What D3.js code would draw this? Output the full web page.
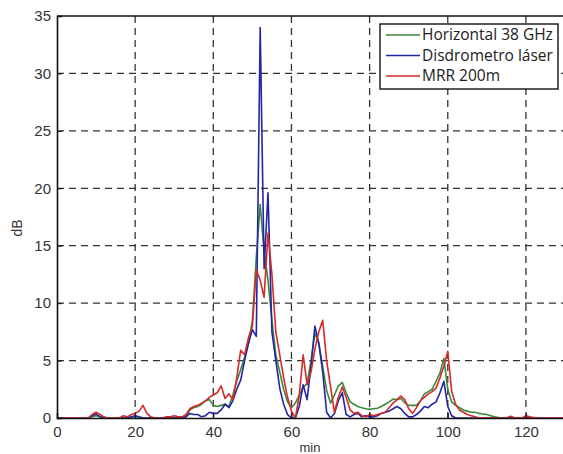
<!DOCTYPE html>
<html><head><meta charset="utf-8">
<script src="https://cdn.jsdelivr.net/npm/d3@7/dist/d3.min.js"></script>
<style>
html,body{margin:0;padding:0;background:#fff;}
svg{display:block;}
</style></head>
<body>
<svg id="chart" width="563" height="454"></svg>
<script>
// minutes 0..130
const minutes = d3.range(0, 131);
const seriesNames = ["Horizontal 38 GHz", "Disdrometro láser", "MRR 200m"];
const seriesColors = ["#3a8a3c", "#2424a6", "#d42a2a"];
const xTicks = [0, 20, 40, 60, 80, 100, 120];
const yTicks = [0, 5, 10, 15, 20, 25, 30, 35];

const horizontal = [
 0,0,0,0,0,0,0,0,0,0.1, 0.2,0.1,0,0,0,0,0,0,0,0,
 0,0,0,0,0,0,0,0,0,0, 0,0,0,0.1,0.7,0.9,1.0,1.2,1.5,1.6,
 1.1,1.0,1.1,1.2,1.0,2.0,3.2,4.2,5.3,6.5, 8.5,14.0,18.6,14.5,12.0,8.5,5.5,4.0,2.5,1.4,
 0.9,1.3,2.0,2.7,3.0,5.0,7.4,6.5,4.5,2.4, 1.3,2.0,2.8,3.1,2.2,1.4,1.2,1.0,0.9,0.8,
 0.75,0.8,0.85,1.0,1.2,1.4,1.65,1.6,1.7,1.3, 1.1,1.1,1.1,1.5,2.1,2.3,2.5,3.2,3.9,5.2,
 2.5,1.4,1.1,0.9,0.7,0.6,0.5,0.5,0.4,0.35, 0.3,0.2,0.1,0.05,0,0,0,0,0,0,
 0,0,0,0,0,0,0,0,0,0, 0
];
const disdrometro = [
 0,0,0,0,0,0,0,0,0,0.2, 0.35,0.1,0,0,0,0,0,0,0,0.1,
 0.2,0.1,0,0,0,0,0,0,0,0, 0,0,0,0.1,0.4,0.3,0.3,0.1,0.2,0.5,
 0.4,0.4,0.7,1.2,0.9,1.5,2.5,3.3,5.0,6.5, 7.7,7.1,34.0,13.0,19.6,7.5,5.0,2.6,1.2,0.3,
 0,0,1.0,2.9,1.6,4.5,8.0,6.5,4.0,0.5, 0,0.4,1.5,2.2,0.3,0.1,0.3,0.4,0.1,0.2,
 0.1,0.1,0.2,0.4,0.5,0.6,0.8,1.0,0.8,0.4, 0.1,0.1,0.3,0.6,1.0,0.9,1.2,1.4,2.2,3.2,
 1.0,0.2,0,0,0,0,0,0,0,0, 0,0,0,0,0,0,0,0,0,0,
 0,0,0,0,0,0,0,0,0,0, 0
];
const mrr = [
 0,0,0,0,0,0,0,0,0,0.3, 0.5,0.3,0.1,0,0,0,0,0.2,0.1,0.3,
 0.4,0.6,1.1,0.4,0.1,0,0,0,0.1,0.1, 0.2,0.1,0.1,0.3,0.8,1.0,1.1,1.3,1.5,1.8,
 2.0,2.2,2.8,1.7,2.1,1.6,3.5,5.9,5.5,7.0, 8.0,12.9,12.0,10.5,16.1,12.5,7.5,5.5,3.5,1.8,
 0.6,0,2.0,5.5,2.9,4.0,6.0,7.5,8.5,5.0, 2.7,0.5,1.8,2.7,1.8,0.7,0.4,0.5,0.2,0.1,
 0.3,0.2,0.3,0.4,0.5,0.9,1.3,1.6,1.9,1.6, 0.8,0.4,0.9,1.5,1.8,2.1,2.3,2.6,3.5,4.5,
 5.8,2.3,1.2,0.7,0.5,0.3,0.2,0.1,0,0, 0,0,0,0,0,0,0.15,0.05,0,0,
 0.2,0.1,0.05,0,0,0,0,0,0,0, 0
];
const seriesValues = [horizontal, disdrometro, mrr];

const svg = d3.select("#chart");
const pLeft = 57, pTop = 16, pBottom = 418, pRight = 565;
const x = d3.scaleLinear().domain([0, 130]).range([pLeft, pRight]);
const y = d3.scaleLinear().domain([0, 35]).range([pBottom, pTop]);

const font = "Liberation Sans, Arial, Helvetica, sans-serif";

// grid
const grid = svg.append("g");
grid.selectAll("line.vx").data(xTicks.filter(d => d > 0)).join("line")
  .attr("x1", d => x(d)).attr("x2", d => x(d)).attr("y1", pTop).attr("y2", pBottom)
  .attr("stroke", "#333").attr("stroke-width", 1.3).attr("stroke-dasharray", "7,5");
grid.selectAll("line.hy").data(yTicks.filter(d => d > 0 && d < 35)).join("line")
  .attr("x1", pLeft).attr("x2", pRight).attr("y1", d => y(d)).attr("y2", d => y(d))
  .attr("stroke", "#333").attr("stroke-width", 1.3).attr("stroke-dasharray", "7,5");

// series
const line = d3.line().x((d, i) => x(minutes[i])).y(d => y(d));
seriesValues.forEach((vals, k) => {
  svg.append("path").datum(vals).attr("d", line)
    .attr("fill", "none").attr("stroke", seriesColors[k])
    .attr("stroke-width", 1.6).attr("stroke-linejoin", "round");
});

// axes
const xAxis = d3.axisBottom(x).tickValues(xTicks).tickSize(-5).tickPadding(8);
const gx = svg.append("g").attr("transform", `translate(0,${pBottom})`).call(xAxis);
const yAxis = d3.axisLeft(y).tickValues(yTicks).tickSize(-5).tickPadding(6);
const gy = svg.append("g").attr("transform", `translate(${pLeft},0)`).call(yAxis);
[gx, gy].forEach(g => {
  g.select(".domain").attr("stroke", "#111").attr("stroke-width", 1.6);
  g.selectAll(".tick line").attr("stroke", "#111");
  g.selectAll(".tick text").attr("fill", "#333").style("font-family", font).style("font-size", "15px");
});
// top border
svg.append("line").attr("x1", pLeft).attr("x2", pRight).attr("y1", pTop).attr("y2", pTop)
  .attr("stroke", "#111").attr("stroke-width", 1.6);

// axis titles
svg.append("text").attr("x", 310).attr("y", 452).attr("text-anchor", "middle")
  .attr("fill", "#333").style("font-family", font).style("font-size", "13px").text("min");
svg.append("text").attr("transform", "translate(22,228) rotate(-90)").attr("text-anchor", "middle")
  .attr("fill", "#333").style("font-family", font).style("font-size", "14px").text("dB");

// legend
const lg = svg.append("g");
lg.append("rect").attr("x", 380).attr("y", 24).attr("width", 178).attr("height", 65)
  .attr("fill", "#fff").attr("stroke", "#111").attr("stroke-width", 1.4);
seriesNames.forEach((name, k) => {
  const ly = 35 + k * 20.5;
  lg.append("line").attr("x1", 386).attr("x2", 420).attr("y1", ly).attr("y2", ly)
    .attr("stroke", seriesColors[k]).attr("stroke-width", 1.6);
  lg.append("text").attr("x", 422).attr("y", ly + 5).attr("fill", "#222")
    .style("font-family", "Open Sans, sans-serif").style("font-size", "15.5px").text(name);
});
</script>
</body></html>
